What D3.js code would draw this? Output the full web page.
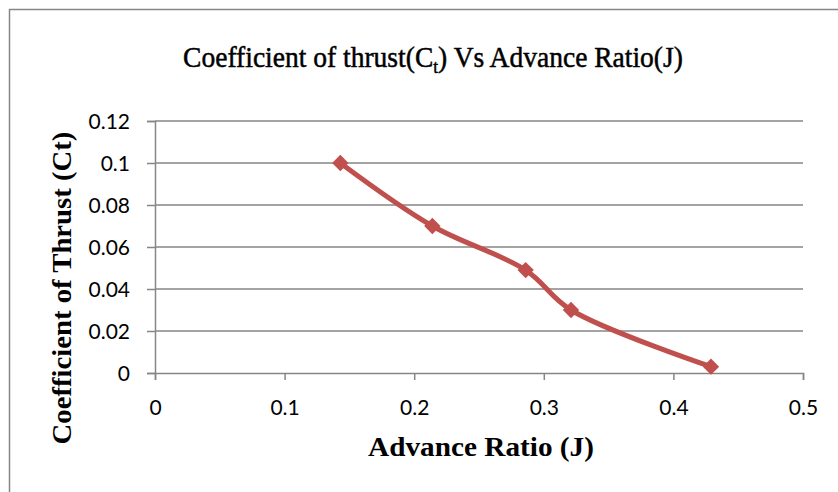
<!DOCTYPE html>
<html>
<head>
<meta charset="utf-8">
<script src="https://cdn.jsdelivr.net/npm/d3@7"></script>
<style>
  body { margin: 0; background: #fff; }
  svg { display: block; }
</style>
</head>
<body>
<svg id="chart" width="838" height="492"></svg>
<script>
// data
const advanceRatio = [0.143, 0.214, 0.286, 0.321, 0.429];
const thrustCoeff = [0.100, 0.070, 0.049, 0.030, 0.003];
const xTicks = [0, 0.1, 0.2, 0.3, 0.4, 0.5];
const yTicks = [0, 0.02, 0.04, 0.06, 0.08, 0.1, 0.12];

const svg = d3.select("#chart");
const W = 838, H = 492;
const serif = "'Liberation Serif', 'Times New Roman', serif";
const sans = "Lato, 'Open Sans', sans-serif";

// chart frame (only left & top edges are inside the picture)
svg.append("rect")
    .attr("x", 9.5).attr("y", 9.5)
    .attr("width", W + 20).attr("height", H + 20)
    .attr("fill", "#fff")
    .attr("stroke", "#868686")
    .attr("stroke-width", 1.5);

const plot = { left: 155, right: 803, top: 121, bottom: 373 };

const x = d3.scaleLinear().domain([0, 0.5]).range([plot.left, plot.right]);
const y = d3.scaleLinear().domain([0, 0.12]).range([plot.bottom, plot.top]);

const gridColor = "#868686";

// horizontal gridlines
svg.append("g")
    .selectAll("line")
    .data(yTicks.filter(d => d > 0))
    .enter().append("line")
    .attr("x1", plot.left).attr("x2", plot.right)
    .attr("y1", d => y(d)).attr("y2", d => y(d))
    .attr("stroke", gridColor)
    .attr("stroke-width", 1.5);

// y axis
const yAxis = svg.append("g")
    .attr("transform", `translate(${plot.left},0)`)
    .call(d3.axisLeft(y).tickValues(yTicks).tickSize(8).tickPadding(17)
        .tickFormat(d => d === 0 ? "0" : String(+d.toFixed(2))));
yAxis.select(".domain").attr("stroke", gridColor).attr("stroke-width", 1.5);
yAxis.selectAll(".tick line").attr("stroke", gridColor).attr("stroke-width", 1.5);
yAxis.selectAll("text")
    .attr("fill", "#000")
    .attr("dy", "0.36em")
    .style("font-family", sans)
    .style("font-size", "21px");

// x axis
const xAxis = svg.append("g")
    .attr("transform", `translate(0,${plot.bottom})`)
    .call(d3.axisBottom(x).tickValues(xTicks).tickSize(7)
        .tickFormat(d => d === 0 ? "0" : String(+d.toFixed(1))));
xAxis.select(".domain").attr("stroke", gridColor).attr("stroke-width", 1.5);
xAxis.selectAll(".tick line").attr("stroke", gridColor).attr("stroke-width", 1.5);
xAxis.selectAll("text")
    .attr("fill", "#000")
    .attr("y", 42).attr("dy", null)
    .style("font-family", sans)
    .style("font-size", "21px");

// series
const pts = advanceRatio.map((v, i) => [v, thrustCoeff[i]]);
const line = d3.line()
    .x(d => x(d[0]))
    .y(d => y(d[1]))
    .curve(d3.curveCatmullRom.alpha(0.5));

svg.append("path")
    .datum(pts)
    .attr("d", line)
    .attr("fill", "none")
    .attr("stroke", "#C0504D")
    .attr("stroke-width", 5)
    .attr("stroke-linejoin", "round");

svg.append("g")
    .selectAll("path")
    .data(pts)
    .enter().append("path")
    .attr("transform", d => `translate(${x(d[0])},${y(d[1])})`)
    .attr("d", d3.symbol().type(d3.symbolDiamond2).size(170))
    .attr("fill", "#C0504D");

// squeeze a text along its own axis so it spans a given width
function fitText(text, width) {
    const w = text.node().getComputedTextLength();
    text.attr("transform", `scale(${width / w},1)`);
}

// title
const title = svg.append("g").attr("transform", "translate(433,67)")
    .append("text")
    .attr("text-anchor", "middle")
    .style("font-family", serif)
    .style("font-size", "30px")
    .attr("fill", "#000")
    .attr("stroke", "#000")
    .attr("stroke-width", 0.5);
title.append("tspan").text("Coefficient of thrust(C");
title.append("tspan").attr("dy", 6).style("font-size", "19px").text("t");
title.append("tspan").attr("dy", -6).text(") Vs Advance Ratio(J)");
fitText(title, 500);

// axis titles
const xTitle = svg.append("g").attr("transform", "translate(481,456)")
    .append("text")
    .attr("text-anchor", "middle")
    .style("font-family", serif)
    .style("font-weight", "bold")
    .style("font-size", "27px")
    .text("Advance Ratio (J)");
fitText(xTitle, 226);

const yTitle = svg.append("g").attr("transform", "translate(71,288) rotate(-90)")
    .append("text")
    .attr("text-anchor", "middle")
    .style("font-family", serif)
    .style("font-weight", "bold")
    .style("font-size", "27px")
    .text("Coefficient of Thrust  (Ct)");
fitText(yTitle, 313);
</script>
</body>
</html>
